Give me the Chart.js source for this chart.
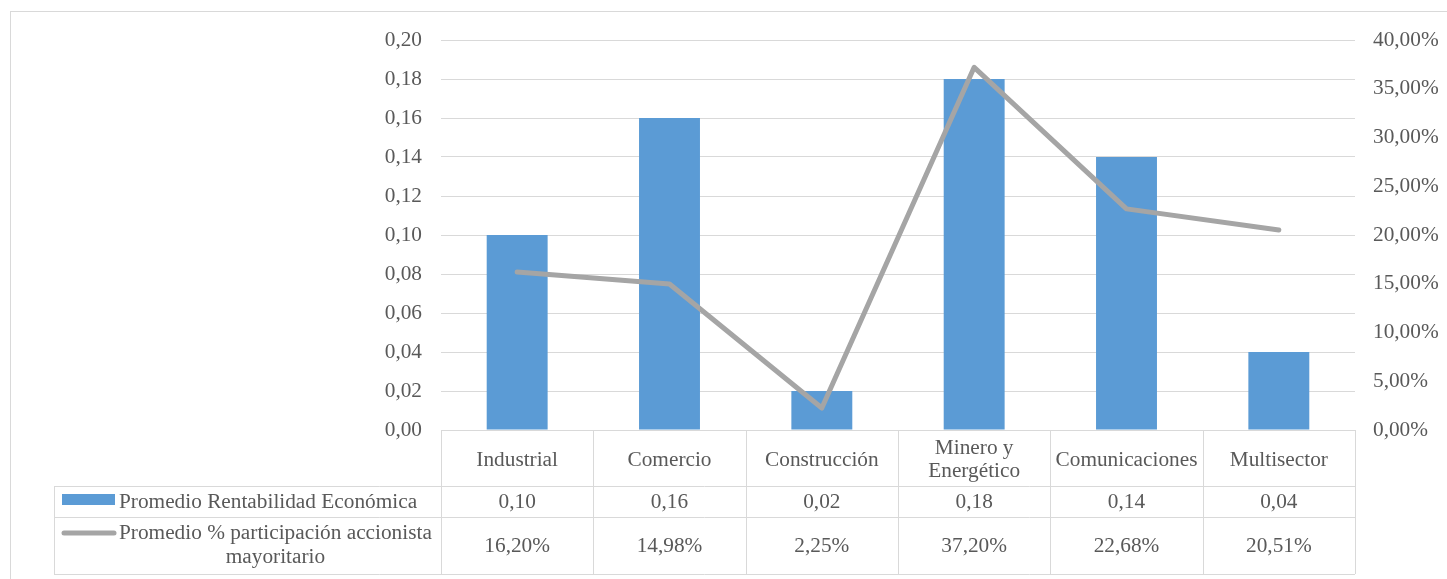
<!DOCTYPE html>
<html>
<head>
<meta charset="utf-8">
<script src="https://cdn.jsdelivr.net/npm/chart.js@4/dist/chart.umd.min.js"></script>
<style>
    html, body { margin: 0; padding: 0; background: #fff; }
    #wrap { position: relative; width: 1447px; height: 579px; }
</style>
</head>
<body>
<div id="wrap"><canvas id="mainChart"></canvas></div>
<script>
const sectors = ['Industrial', 'Comercio', 'Construcción', ['Minero y', 'Energético'], 'Comunicaciones', 'Multisector'];
const rentabilidad = [0.10, 0.16, 0.02, 0.18, 0.14, 0.04];
const participacion = [16.20, 14.98, 2.25, 37.20, 22.68, 20.51];
const barLabel = 'Promedio Rentabilidad Económica';
const lineLabel = ['Promedio % participación accionista', 'mayoritario'];

const textColor = '#595959',
    gridColor = '#d9d9d9',
    barColor = '#5b9bd5',
    lineColor = '#a5a5a5',
    fontFamily = '"Liberation Serif", "Times New Roman", serif',
    fontSize = 21.3;

const fmt = (v, d) => v.toFixed(d).replace('.', ',');

// data table under the plot, laid out on the chart area columns
const dataTable = {
    id: 'dataTable',
    afterDraw(chart) {
        const ctx = chart.ctx;
        const area = chart.chartArea;
        const colW = (area.right - area.left) / sectors.length;
        const top = area.bottom,
            r1 = 486,
            r2 = 517,
            bottom = 574,
            legLeft = 54;

        ctx.save();
        ctx.strokeStyle = gridColor;
        ctx.lineWidth = 1;
        ctx.beginPath();
        ctx.moveTo(area.left, top + 0.5); ctx.lineTo(area.right, top + 0.5);
        [r1, r2, bottom].forEach(y => {
            ctx.moveTo(legLeft, y + 0.5); ctx.lineTo(area.right, y + 0.5);
        });
        ctx.moveTo(legLeft + 0.5, r1); ctx.lineTo(legLeft + 0.5, bottom);
        for (let i = 0; i <= sectors.length; i++) {
            const x = Math.round(area.left + i * colW) + 0.5;
            ctx.moveTo(x, top); ctx.lineTo(x, bottom);
        }
        ctx.stroke();

        // outer frame
        ctx.strokeRect(10.5, 11.5, 1460, 600);

        ctx.fillStyle = textColor;
        ctx.font = fontSize + 'px ' + fontFamily;
        ctx.textAlign = 'center';
        ctx.textBaseline = 'middle';

        sectors.forEach((s, i) => {
            const cx = area.left + (i + 0.5) * colW;
            const lines = Array.isArray(s) ? s : [s];
            const mid = (top + r1) / 2 + 2;
            lines.forEach((l, j) => {
                ctx.fillText(l, cx, mid + (j - (lines.length - 1) / 2) * 23);
            });
            ctx.fillText(fmt(rentabilidad[i], 2), cx, (r1 + r2) / 2 + 1);
            ctx.fillText(fmt(participacion[i], 2) + '%', cx, (r2 + bottom) / 2 + 1);
        });

        // legend keys
        ctx.fillStyle = barColor;
        ctx.fillRect(62, 494, 53, 11);
        ctx.strokeStyle = lineColor;
        ctx.lineWidth = 5;
        ctx.lineCap = 'round';
        ctx.beginPath();
        ctx.moveTo(64, 533); ctx.lineTo(114, 533);
        ctx.stroke();

        ctx.fillStyle = textColor;
        ctx.textAlign = 'left';
        ctx.fillText(barLabel, 119, (r1 + r2) / 2 + 1);
        const w = ctx.measureText(lineLabel[0]).width;
        ctx.fillText(lineLabel[0], 119, 533);
        ctx.textAlign = 'center';
        ctx.fillText(lineLabel[1], 119 + w / 2, 557);
        ctx.restore();
    }
};

new Chart(document.getElementById('mainChart'), {
    data: {
        labels: sectors,
        datasets: [
            {
                type: 'line',
                label: lineLabel.join(' '),
                data: participacion,
                yAxisID: 'y2',
                borderColor: lineColor,
                borderWidth: 5,
                borderCapStyle: 'round',
                borderJoinStyle: 'round',
                pointRadius: 0,
                tension: 0,
                order: 0
            },
            {
                type: 'bar',
                label: barLabel,
                data: rentabilidad,
                yAxisID: 'y',
                backgroundColor: barColor,
                categoryPercentage: 1,
                barPercentage: 0.4,
                order: 1
            }
        ]
    },
    plugins: [dataTable],
    options: {
        responsive: true,
        maintainAspectRatio: false,
        animation: false,
        layout: { padding: { left: 0, right: 0, top: 40, bottom: 149 } },
        plugins: {
            legend: { display: false },
            tooltip: { enabled: false }
        },
        scales: {
            x: { display: false, offset: true },
            y: {
                position: 'left',
                min: 0,
                max: 0.2,
                afterFit: s => { s.width = 441; },
                border: { display: false },
                grid: { color: gridColor, drawTicks: false },
                ticks: {
                    stepSize: 0.02,
                    padding: 19,
                    color: textColor,
                    font: { family: fontFamily, size: fontSize },
                    callback: v => fmt(v, 2)
                }
            },
            y2: {
                position: 'right',
                min: 0,
                max: 40,
                afterFit: s => { s.width = 92; },
                border: { display: false },
                grid: { display: false, drawTicks: false },
                ticks: {
                    stepSize: 5,
                    padding: 18,
                    color: textColor,
                    font: { family: fontFamily, size: fontSize },
                    callback: v => fmt(v, 2) + '%'
                }
            }
        }
    }
});
</script>
</body>
</html>
